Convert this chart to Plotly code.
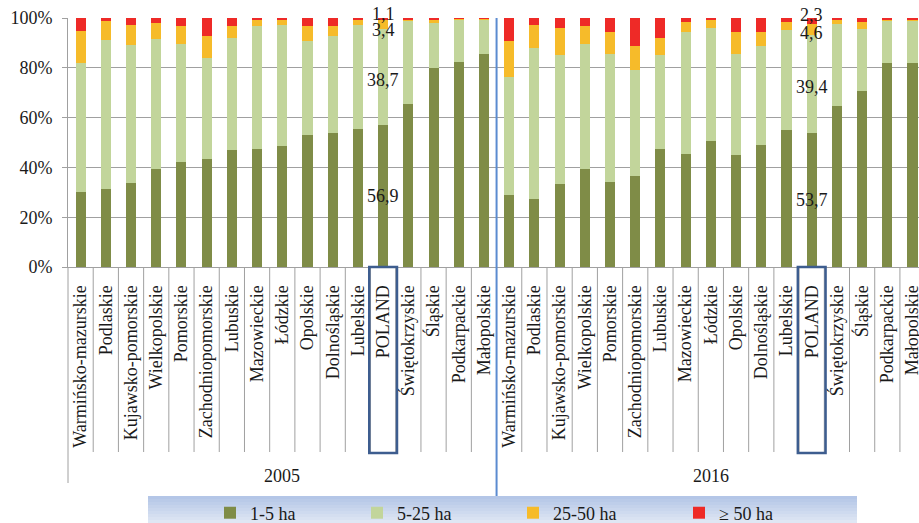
import plotly.graph_objects as go

# ---------------- data ----------------
regions = ["Warmińsko-mazurskie", "Podlaskie", "Kujawsko-pomorskie", "Wielkopolskie",
           "Pomorskie", "Zachodniopomorskie", "Lubuskie", "Mazowieckie", "Łódzkie",
           "Opolskie", "Dolnośląskie", "Lubelskie", "POLAND", "Świętokrzyskie",
           "Śląskie", "Podkarpackie", "Małopolskie"]
years = ["2005", "2016"]
series_names = ["1-5 ha", "5-25 ha", "25-50 ha", "≥ 50 ha"]

ha_1_5_2005 = [30.3, 31.4, 33.8, 39.4, 42.2, 43.4, 46.9, 47.5, 48.7, 53.0, 53.8, 55.5, 56.9, 65.4, 79.8, 82.5, 85.7]
ha_5_25_2005 = [51.5, 59.9, 55.2, 52.3, 47.5, 40.7, 45.2, 49.1, 48.6, 37.9, 39.1, 41.8, 38.7, 33.4, 18.2, 16.8, 13.7]
ha_25_50_2005 = [12.8, 7.5, 8.3, 6.3, 6.9, 8.7, 4.5, 2.7, 2.1, 6.0, 4.0, 2.1, 3.4, 0.5, 1.0, 0.3, 0.2]
ha_50_2005 = [5.4, 1.2, 2.7, 2.0, 3.4, 7.2, 3.4, 0.7, 0.6, 3.1, 3.1, 0.6, 1.1, 0.7, 1.0, 0.4, 0.4]

ha_1_5_2016 = [29.0, 27.5, 33.4, 39.4, 34.0, 36.7, 47.5, 45.4, 50.7, 45.0, 49.0, 55.0, 53.7, 64.6, 70.7, 82.1, 82.1]
ha_5_25_2016 = [47.5, 60.3, 51.9, 50.0, 51.7, 42.6, 37.8, 49.0, 45.1, 40.7, 39.6, 40.3, 39.4, 33.1, 25.0, 16.8, 16.7]
ha_25_50_2016 = [14.3, 9.5, 10.5, 7.2, 8.5, 9.3, 6.7, 4.1, 3.5, 8.5, 5.6, 3.1, 4.6, 1.3, 2.7, 0.6, 0.6]
ha_50_2016 = [9.2, 2.7, 4.2, 3.4, 5.8, 11.4, 8.0, 1.5, 0.7, 5.8, 5.8, 1.6, 2.3, 1.0, 1.6, 0.5, 0.6]

y_ticks = [0, 20, 40, 60, 80, 100]
y_ticktext = ["0%", "20%", "40%", "60%", "80%", "100%"]

# ---------------- style ----------------
colors = ["#7f8c47", "#c2d59b", "#f6bb2a", "#ee2a27"]
FONT = "Liberation Serif, Times New Roman, serif"
W, H = 919, 523
ML, MR, MT, MB = 68, 0, 18, 256
plot_w = W - ML - MR
plot_h = H - MT - MB

def py(px):  # pixel y -> paper y
    return (H - MB - px) / plot_h

def pxx(px):  # pixel x -> paper x
    return (px - ML) / plot_w

n = len(regions)
x_idx = list(range(2 * n))
labels = regions + regions
series = [ha_1_5_2005 + ha_1_5_2016, ha_5_25_2005 + ha_5_25_2016,
          ha_25_50_2005 + ha_25_50_2016, ha_50_2005 + ha_50_2016]
legend_ids = ["legend", "legend2", "legend3", "legend4"]

fig = go.Figure()
for name, vals, col, lg in zip(series_names, series, colors, legend_ids):
    fig.add_trace(go.Bar(x=x_idx, y=vals, name=name, marker=dict(color=col, line=dict(width=0)),
                         legend=lg))

# data labels for POLAND bars
pol = regions.index("POLAND")
shifts = [[0, -3, -5, 5], [0, -3, -4, 6]]
for g in range(2):
    xi = g * n + pol
    cum = 0
    for s, vals in enumerate(series):
        v = vals[xi]
        mid = cum + v / 2
        cum += v
        fig.add_annotation(x=xi, y=mid, xref="x", yref="y", text=f"{v:.1f}".replace(".", ","),
                           showarrow=False, yshift=shifts[g][s],
                           font=dict(family=FONT, size=18, color="#1a1a1a"))

shapes = []
# category separators below axis
for i in range(1, 2 * n):
    if i == n:
        continue
    shapes.append(dict(type="line", xref="x", yref="paper", x0=i - 0.5, x1=i - 0.5,
                       y0=0, y1=py(452), line=dict(color="#a0a0a0", width=1)))
# left axis extension
shapes.append(dict(type="line", xref="paper", yref="paper", x0=0, x1=0, y0=0, y1=py(483),
                   line=dict(color="#a0a0a0", width=1)))
# legend background (gradient approximation)
top, bot = 496, 523
c0 = (180, 198, 231)
c1 = (223, 231, 244)
steps = 9
for k in range(steps):
    t = k / (steps - 1)
    c = tuple(int(c0[j] + (c1[j] - c0[j]) * t) for j in range(3))
    y0 = top + (bot - top) * k / steps
    y1 = top + (bot - top) * (k + 1) / steps
    shapes.append(dict(type="rect", xref="paper", yref="paper", x0=pxx(148), x1=pxx(857),
                       y0=py(y1), y1=py(y0), line=dict(width=0),
                       fillcolor=f"rgb{c}", layer="below"))
# year divider (blue)
shapes.append(dict(type="line", xref="x", yref="paper", x0=n - 0.5, x1=n - 0.5,
                   y0=py(496), y1=1, line=dict(color="#5b8bd0", width=2)))
# POLAND highlight boxes
for g in range(2):
    xi = g * n + pol
    shapes.append(dict(type="rect", xref="x", yref="paper", x0=xi - 0.55, x1=xi + 0.55,
                       y0=py(453), y1=py(267), line=dict(color="#3d5d8f", width=2.5)))

# year labels
for g, yr in enumerate(years):
    fig.add_annotation(x=g * n + (n - 1) / 2, y=py(476), xref="x", yref="paper", text=yr,
                       showarrow=False, font=dict(family=FONT, size=18, color="#1a1a1a"),
                       yanchor="middle")

legend_text_x = [250, 397, 553, 719]
legend_layouts = {}
for lg, tx in zip(legend_ids, legend_text_x):
    legend_layouts[lg] = dict(x=pxx(tx - 40), y=py(513), xanchor="left", yanchor="middle",
                              orientation="h", bgcolor="rgba(0,0,0,0)",
                              font=dict(family=FONT, size=18, color="#1a1a1a"),
                              itemwidth=30)

fig.update_layout(
    width=W, height=H,
    margin=dict(l=ML, r=MR, t=MT, b=MB, autoexpand=False),
    barmode="stack", bargap=0.6,
    plot_bgcolor="white", paper_bgcolor="white",
    font=dict(family=FONT, size=18, color="#1a1a1a"),
    shapes=shapes,
    showlegend=True,
    **legend_layouts,
    xaxis=dict(range=[-0.5, -0.5 + plot_w / 25.21], tickmode="array", tickvals=x_idx,
               ticktext=labels, tickangle=-90, showgrid=False, showline=True,
               linecolor="#a0a0a0", linewidth=1, ticks="", zeroline=False,
               automargin=False, ticklabelstandoff=10, ticklabeloverflow="allow",
               tickfont=dict(family=FONT, size=18, color="#1a1a1a")),
    yaxis=dict(range=[0, 100], tickvals=y_ticks, ticktext=y_ticktext, showgrid=True,
               gridcolor="#a0a0a0", gridwidth=1, showline=True, linecolor="#a0a0a0",
               ticks="outside", ticklen=5, tickcolor="#a0a0a0", zeroline=False,
               automargin=False, ticklabelstandoff=6,
               tickfont=dict(family=FONT, size=18, color="#1a1a1a")),
)

fig.write_html("out.html", config={"displayModeBar": False},
               post_script="document.body.style.margin='0px';document.body.style.overflow='hidden';")
